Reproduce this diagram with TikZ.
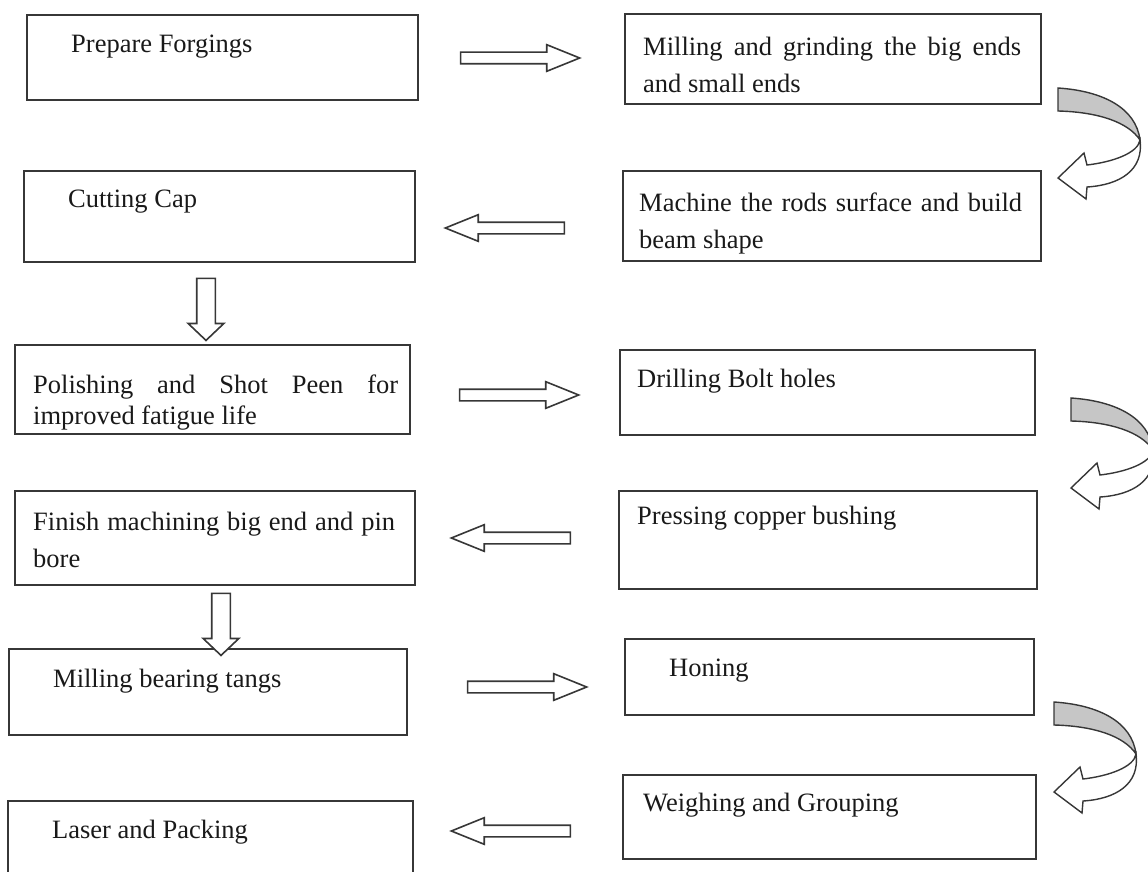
\documentclass[tikz,border=0pt]{standalone}
\usepackage{fontspec}
\setmainfont{Liberation Serif}
\usetikzlibrary{shapes.arrows,calc}
\definecolor{linegray}{RGB}{55,55,55}
\definecolor{bandgray}{RGB}{198,198,198}
\definecolor{inkgray}{RGB}{25,25,25}

\tikzset{
    turnarrow/.pic={
        % grey top of the band, then the white underside with its head
        \draw[linegray, line width=1.4pt, fill=bandgray]
            (0,0) .. controls (45,3) and (78,20) .. (82,52)
            .. controls (70,34) and (40,24) .. (0,23) -- cycle;
        \draw[linegray, line width=1.4pt, fill=white]
            (82,52) .. controls (80,65) and (55,74) .. (29,77)
            -- (26,65) -- (0,90) -- (28,111) -- (29,99)
            .. controls (62,97) and (86,82) .. (82,52) -- cycle;
    }
}

\begin{document}
\begin{tikzpicture}[
    x=1pt, y=-1pt,
    box/.style={
        rectangle, draw=linegray, line width=1.9pt,
        anchor=north west, inner sep=0pt
    },
    steptext/.style={
        anchor=north west, inner sep=0pt, text=inkgray,
        font=\fontsize{26.5}{37}\selectfont
    },
    longtext/.style={steptext, align=justify},
    blockarrow/.style={
        single arrow, draw=linegray, fill=white, line width=1.6pt,
        inner xsep=0pt, inner ysep=5pt, minimum width=0pt,
        minimum height=119pt, single arrow head extend=7.5pt,
        single arrow tip angle=44
    },
    leftarrow/.style={blockarrow, rotate=180},
    downarrow/.style={
        blockarrow, rotate=-90, inner ysep=8.5pt,
        minimum height=62pt, single arrow head extend=8.5pt,
        single arrow tip angle=93
    }
]
\useasboundingbox (0,0) rectangle (1148,872);

% left column
\node[box, minimum width=391pt, minimum height=85pt] (forge) at (26,14) {};
\node[box, minimum width=391pt, minimum height=91pt] (cutcap) at (23,170) {};
\node[box, minimum width=395pt, minimum height=89pt] (polish) at (14,344) {};
\node[box, minimum width=400pt, minimum height=94pt] (finish) at (14,490) {};
\node[box, minimum width=398pt, minimum height=86pt] (tangs) at (8,648) {};
\node[box, minimum width=405pt, minimum height=82pt] (laser) at (7,800) {};

% right column
\node[box, minimum width=416pt, minimum height=90pt] (mill) at (624,13) {};
\node[box, minimum width=418pt, minimum height=90pt] (machine) at (622,170) {};
\node[box, minimum width=415pt, minimum height=85pt] (drill) at (619,349) {};
\node[box, minimum width=418pt, minimum height=98pt] (press) at (618,490) {};
\node[box, minimum width=409pt, minimum height=76pt] (hone) at (624,638) {};
\node[box, minimum width=413pt, minimum height=84pt] (weigh) at (622,774) {};

% texts
\node[steptext] (forge-t) at ($(forge.north west)+(45,21)$) {Prepare Forgings};
\node[steptext] (cutcap-t) at ($(cutcap.north west)+(45,20)$) {Cutting Cap};
\node[longtext, text width=365pt, font=\fontsize{26.5}{31}\selectfont]
    (polish-t) at ($(polish.north west)+(19,31)$)
    {Polishing and Shot Peen for\linebreak improved fatigue life};
\node[longtext, text width=362pt] (finish-t) at ($(finish.north west)+(19,22)$)
    {Finish machining big end and pin\linebreak bore};
\node[steptext] (tangs-t) at ($(tangs.north west)+(45,21)$) {Milling bearing tangs};
\node[steptext] (laser-t) at ($(laser.north west)+(45,20)$) {Laser and Packing};
\node[longtext, text width=378pt] (mill-t) at ($(mill.north west)+(19,24)$)
    {Milling and grinding the big ends\linebreak and small ends};
\node[longtext, text width=383pt] (machine-t) at ($(machine.north west)+(17,23)$)
    {Machine the rods surface and build\linebreak beam shape};
\node[steptext] (drill-t) at ($(drill.north west)+(18,20)$) {Drilling Bolt holes};
\node[steptext] (press-t) at ($(press.north west)+(19,16)$) {Pressing copper bushing};
\node[steptext] (hone-t) at ($(hone.north west)+(45,21)$) {Honing};
\node[steptext] (weigh-t) at ($(weigh.north west)+(21,19)$) {Weighing and Grouping};

% block arrows
\node[blockarrow] (a1) at (513,58) {};
\node[leftarrow] (a2) at (512,228) {};
\node[downarrow] (a3) at (206,305) {};
\node[blockarrow] (a4) at (512,395) {};
\node[leftarrow] (a5) at (518,538) {};
\node[downarrow] (a6) at (221,620) {};
\node[blockarrow] (a7) at (520,687) {};
\node[leftarrow] (a8) at (518,831) {};

% turning arrows on the right
\pic (t1) at (1058,88) {turnarrow};
\pic (t2) at (1071,398) {turnarrow};
\pic (t3) at (1054,702) {turnarrow};

\end{tikzpicture}
\end{document}
